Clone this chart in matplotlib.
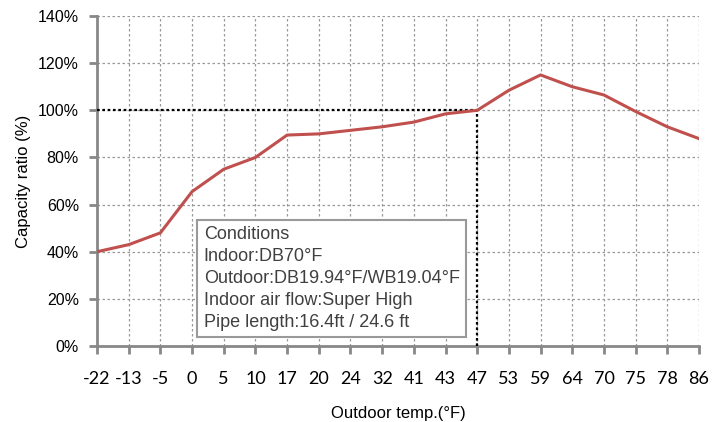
import numpy as np
from matplotlib import pyplot as plt
from matplotlib.ticker import FuncFormatter

temps = ["-22", "-13", "-5", "0", "5", "10", "17", "20", "24", "32",
         "41", "43", "47", "53", "59", "64", "70", "75", "78", "86"]
ratio = [40, 43, 48, 65.5, 75, 80, 89.5, 90, 91.5, 93,
         95, 98.5, 100, 108.5, 115, 110, 106.5, 99.5, 93, 88]
ref_temp = "47"
ref_ratio = 100
conditions = ["Conditions",
              "Indoor:DB70°F",
              "Outdoor:DB19.94°F/WB19.04°F",
              "Indoor air flow:Super High",
              "Pipe length:16.4ft / 24.6 ft"]

plt.rcParams['font.family'] = ['Liberation Sans', 'DejaVu Sans']

fig = plt.figure(figsize=(7.26, 4.22), dpi=100)
ax = fig.add_axes([0.1336, 0.1801, 0.8292, 0.7819])

x = np.arange(len(temps))
ax.plot(x, ratio, color="#C0504D", lw=2.2, zorder=4)

# reference lines at 47°F / 100%
xr = temps.index(ref_temp)
ax.plot([0, xr], [ref_ratio, ref_ratio], color="black", lw=1.6, ls=(0, (1.2, 1.2)), zorder=3)
ax.plot([xr, xr], [0, ref_ratio], color="black", lw=1.6, ls=(0, (1.2, 1.2)), zorder=3)

ax.set_xlim(0, len(temps) - 1)
ax.set_ylim(0, 140)
ax.set_xticks(x)
ax.set_xticklabels(temps, fontfamily="Lato", fontsize=13)
ax.set_yticks(np.arange(0, 141, 20))
ax.yaxis.set_major_formatter(FuncFormatter(lambda v, p: f"{v:.0f}%"))
ax.tick_params(axis="y", labelsize=11.5, length=6, width=2, color="#888888", pad=7)
ax.tick_params(axis="x", length=6, width=2, color="#888888", pad=12)

ax.grid(True, color="#999999", lw=0.9, ls=(0, (2, 2)))
ax.set_axisbelow(True)
for s in ["top", "right"]:
    ax.spines[s].set_visible(False)
for s in ["left", "bottom"]:
    ax.spines[s].set_color("#888888")
    ax.spines[s].set_linewidth(2)

ax.set_ylabel("Capacity ratio (%)", fontsize=12, labelpad=5)
ax.set_xlabel("Outdoor temp.(°F)", fontsize=12, labelpad=14)

ax.text(3.37, 6.5, "\n".join(conditions), fontsize=13, color="#404040",
        linespacing=1.37, va="bottom", ha="left", zorder=5,
        bbox=dict(facecolor="white", edgecolor="#999999", lw=1.5,
                  boxstyle="square,pad=0.35"))

fig.savefig("out.png", dpi=100)
